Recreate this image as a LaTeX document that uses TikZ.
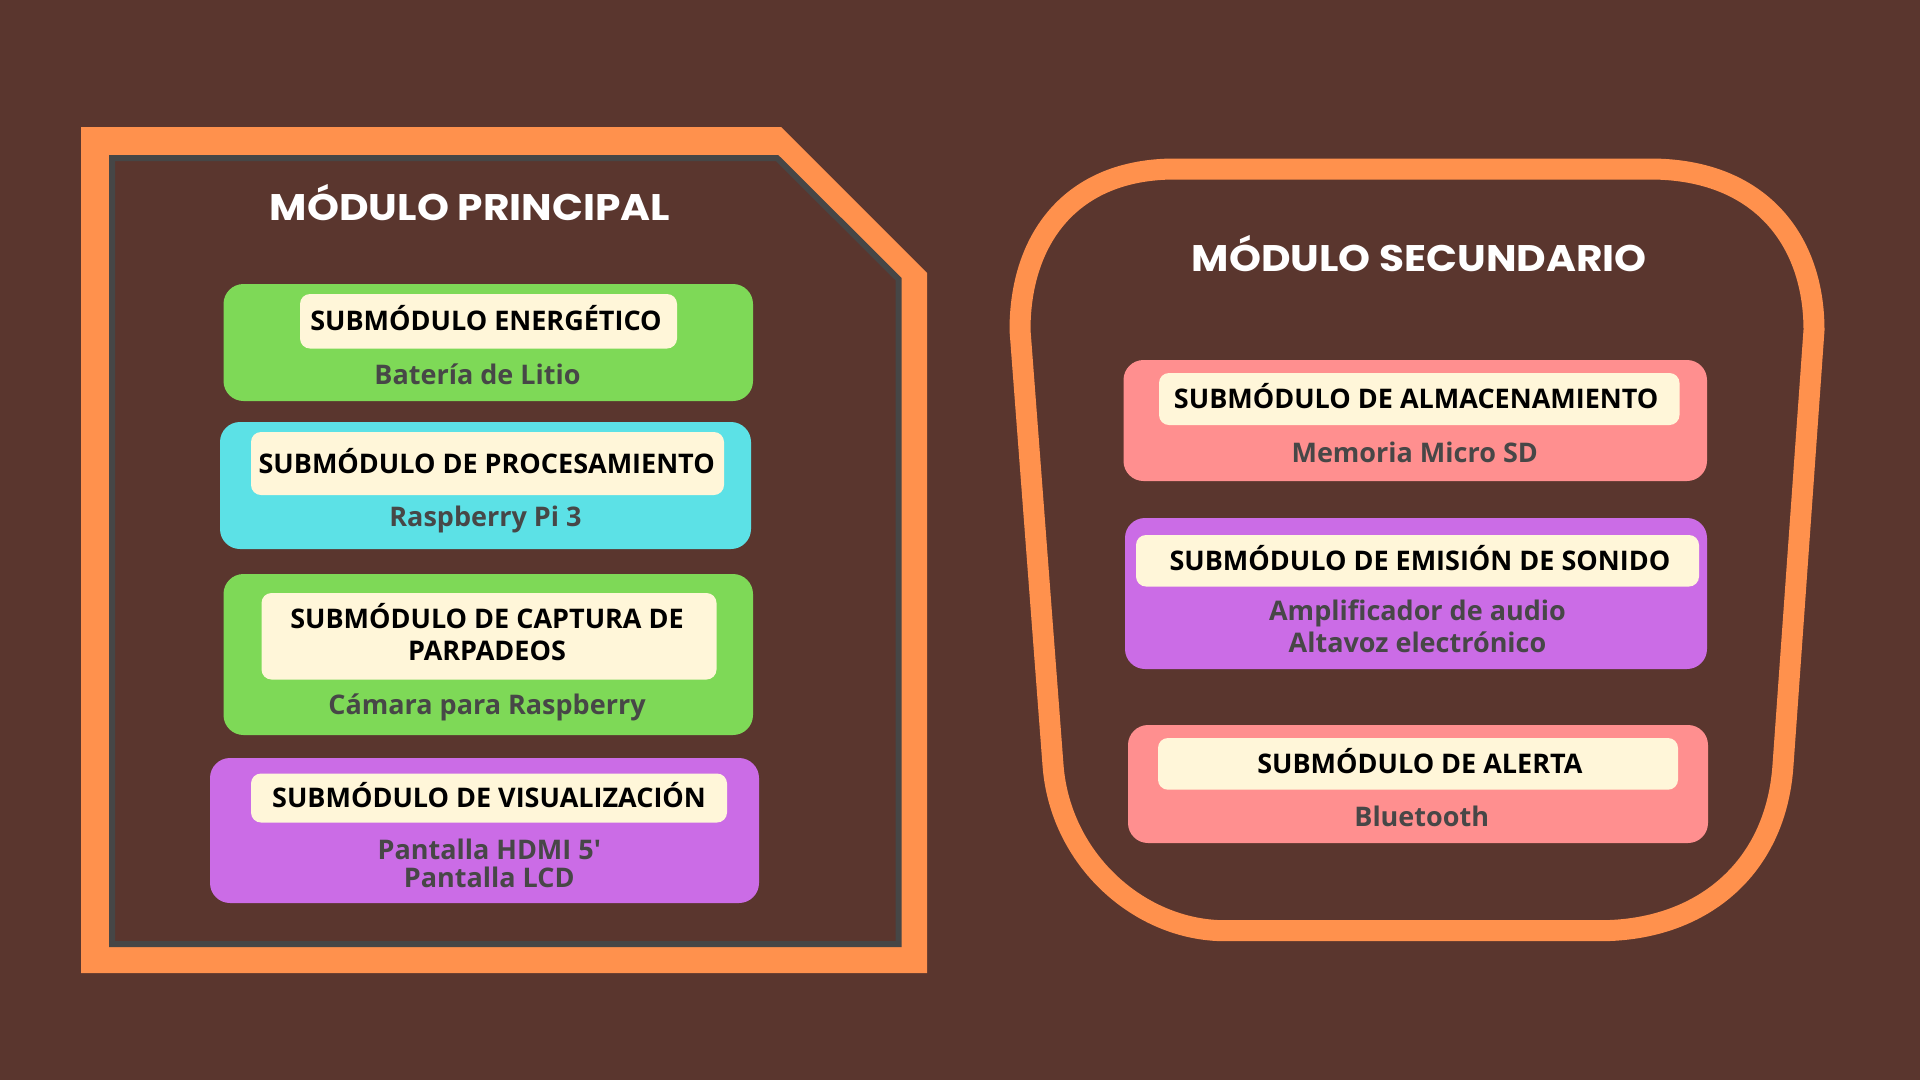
\documentclass[tikz,border=0pt]{standalone}
\usepackage{fontspec}
\setmainfont{Open Sans}
\newfontfamily\nolig{Open Sans}
\newfontfamily\titlefam{Poppins}[FakeStretch=1.1]
\definecolor{bg}{HTML}{5A362E}
\definecolor{orng}{HTML}{FF914D}
\definecolor{frameg}{HTML}{464646}
\definecolor{grn}{HTML}{7ED957}
\definecolor{cyn}{HTML}{5CE1E6}
\definecolor{prp}{HTML}{CB6CE6}
\definecolor{pnk}{HTML}{FF8F8F}
\definecolor{cream}{HTML}{FFF6D9}
\definecolor{txtgray}{HTML}{474747}
\begin{document}
\begin{tikzpicture}[x=1pt,y=-1pt,
  colbox/.style={rounded corners=20pt, inner sep=0pt, draw=none},
  creambox/.style={fill=cream, rounded corners=10pt, inner sep=0pt, draw=none},
  hdr/.style={font=\bfseries\fontsize{27}{32}\selectfont, text=black, anchor=base, align=center, inner sep=0pt},
  desc/.style={font=\bfseries\fontsize{27}{32}\selectfont, text=txtgray, anchor=base, align=center, inner sep=0pt},
  ttl/.style={font=\titlefam\bfseries\fontsize{37}{40}\selectfont, text=white, anchor=base, inner sep=0pt},
  outerframe/.style={fill=orng},
  innerframe/.style={fill=bg, draw=frameg, line width=6pt, line join=miter},
  cup/.style={draw=orng, line width=21pt}
]
\useasboundingbox (0,0) rectangle (1920,1080);
\fill[bg] (0,0) rectangle (1920,1080);

% ---------- left frame ----------
\path[outerframe] (81,127) -- (781,127) -- (927,273) -- (927,973) -- (81,973) -- cycle;
\path[innerframe] (112,158) -- (777,158) -- (898.5,279) -- (898.5,944) -- (112,944) -- cycle;
\node[ttl] (tp) at (470,220) {MÓDULO PRINCIPAL};

% energetico
\node[colbox, fill=grn, minimum width=529.5pt, minimum height=117pt] (e) at (488.25,342.5) {};
\node[creambox, minimum width=377pt, minimum height=54.5pt] (ec) at (488.5,321.25) {};
\node[hdr] (et) at (486,330.6) {SUBMÓDULO ENERGÉTICO};
\node[desc] (ed) at (477.5,384.6) {Batería de Litio};

% procesamiento
\node[colbox, fill=cyn, minimum width=531pt, minimum height=127pt] (p) at (485.5,485.5) {};
\node[creambox, minimum width=473pt, minimum height=63pt] (pc) at (487.5,463.5) {};
\node[hdr] (pt) at (486.7,473.1) {SUBMÓDULO DE PROCESAMIENTO};
\node[desc] (pd) at (485.5,526.1) {Raspberry Pi 3};

% captura
\node[colbox, fill=grn, minimum width=529.5pt, minimum height=161pt] (c) at (488.25,654.5) {};
\node[creambox, minimum width=455pt, minimum height=86.5pt] (cc) at (489,636.25) {};
\node[hdr] (ct) at (487,660.6) {SUBMÓDULO DE CAPTURA DE\\PARPADEOS};
\node[desc] (cd) at (487,714.2) {Cámara para Raspberry};

% visualizacion
\node[colbox, fill=prp, minimum width=549pt, minimum height=145pt] (v) at (484.5,830.5) {};
\node[creambox, minimum width=476pt, minimum height=49pt] (vc) at (489,798) {};
\node[hdr] (vt) at (489,807.2) {SUBMÓDULO DE VISUALIZACIÓN};
\node[desc, font=\bfseries\fontsize{27}{27.5}\selectfont] (vd) at (489.3,887.1) {Pantalla HDMI 5{\nolig\bfseries '}\\Pantalla LCD};

% ---------- right frame ----------
\draw[cup] (1175,169) -- (1650,169)
  .. controls (1760,169) and (1814,240) .. (1814,330)
  -- (1783,765)
  .. controls (1776,870) and (1700,930.7) .. (1600,930.7)
  -- (1225,930.7)
  .. controls (1140,930.7) and (1060,860) .. (1053,765)
  -- (1020,330)
  .. controls (1020,240) and (1070,169) .. (1175,169) -- cycle;
\node[ttl] (ts) at (1419.3,271) {MÓDULO SECUNDARIO};

% almacenamiento
\node[colbox, fill=pnk, minimum width=583.5pt, minimum height=121pt] (a) at (1415.25,420.5) {};
\node[creambox, minimum width=520.5pt, minimum height=52pt] (ac) at (1419.25,399) {};
\node[hdr] (at) at (1416.2,408.3) {SUBMÓDULO DE ALMACENAMIENTO};
\node[desc] (ad) at (1414.7,462.4) {Memoria Micro SD};

% sonido
\node[colbox, fill=prp, minimum width=582pt, minimum height=151pt] (s) at (1416,593.5) {};
\node[creambox, minimum width=563pt, minimum height=51.5pt] (sc) at (1417.5,560.75) {};
\node[hdr] (st) at (1419.9,570.3) {SUBMÓDULO DE EMISIÓN DE SONIDO};
\node[desc] (sd) at (1417.5,652.2) {Amplificador de audio\\Altavoz electrónico};

% alerta
\node[colbox, fill=pnk, minimum width=580pt, minimum height=118pt] (l) at (1418,784) {};
\node[creambox, minimum width=520pt, minimum height=51.7pt] (lc) at (1418,763.85) {};
\node[hdr] (lt) at (1419.9,773.4) {SUBMÓDULO DE ALERTA};
\node[desc] (ld) at (1421.7,826.6) {Bluetooth};
\end{tikzpicture}
\end{document}
